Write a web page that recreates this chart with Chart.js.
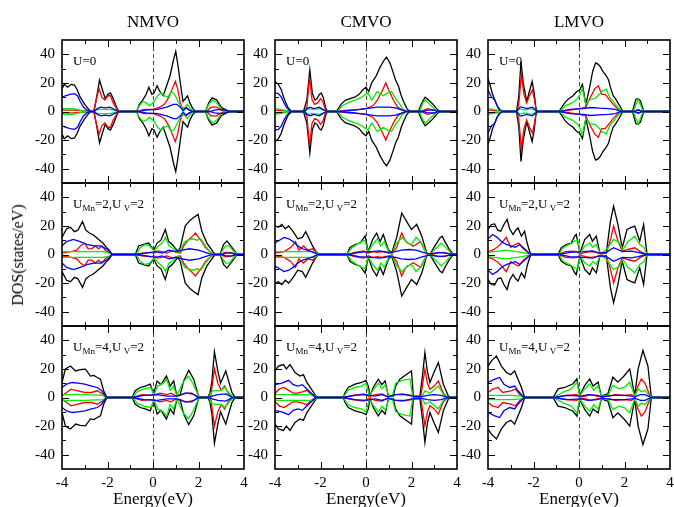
<!DOCTYPE html>
<html>
<head>
<meta charset="utf-8">
<script src="https://cdn.jsdelivr.net/npm/chart.js@4.4.1/dist/chart.umd.min.js"></script>
<style>
  body { margin: 0; background: #fff; }
  #wrap { position: relative; width: 674px; height: 507px; overflow: hidden; background: #fff; }
  #wrap canvas { position: absolute; }
  .lbl { position: absolute; font-family: "Liberation Serif", "DejaVu Serif", serif; color: #000; white-space: nowrap; }
  .lbl sub { font-size: 9px; vertical-align: -3px; line-height: 0; }
</style>
</head>
<body>
<div id="wrap"></div>
<script>
// axis setup
const xTicks = [-4, -2, 0, 2, 4]
const yTicks = [-40, -20, 0, 20, 40]
const colTitles = ['NMVO', 'CMVO', 'LMVO']
const uLabels = ['U=0', 'U<sub>Mn</sub>=2,U<sub>&nbsp;V</sub>=2', 'U<sub>Mn</sub>=4,U<sub>&nbsp;V</sub>=2']

// DOS curves, [energy, states/eV] (spin up; spin down is the mirror image)
// --- U = 0 ---
const nm0_tot = [[-4,16],[-3.9,19],[-3.75,17],[-3.6,19],[-3.45,18.5],[-3.33,15],[-3.2,10],[-3.0,5],[-2.8,1],[-2.7,0],[-2.6,0],[-2.5,8],[-2.35,22],[-2.22,15],[-2.1,9],[-1.98,12],[-1.87,13],[-1.75,9],[-1.6,3],[-1.5,0],[-0.72,0],[-0.6,5],[-0.45,8],[-0.3,12],[-0.18,17],[-0.05,12],[0.05,13],[0.18,18],[0.3,14],[0.45,11],[0.6,18],[0.75,25],[0.9,36],[1.0,42],[1.1,32],[1.2,20],[1.32,7],[1.42,9],[1.52,11],[1.62,6],[1.75,2],[1.9,0],[2.3,0],[2.45,6],[2.6,9.5],[2.8,8],[3.0,3],[3.3,0.5],[3.45,0]]
const nm0_red = [[-4,1],[-3.5,1],[-3.0,0.5],[-2.8,0],[-2.6,0],[-2.5,8],[-2.37,16],[-2.25,10],[-2.12,8],[-1.98,11],[-1.87,11],[-1.75,6],[-1.6,2],[-1.5,0],[-0.7,0],[-0.4,1.5],[0,1.5],[0.3,3],[0.5,5],[0.7,10],[0.85,16],[0.98,21],[1.08,16],[1.2,6],[1.3,2],[1.45,3],[1.6,1],[1.75,0],[2.35,0],[2.55,3],[2.8,3],[3.0,1],[3.2,0]]
const nm0_grn = [[-4,2],[-3.5,2],[-3.1,0.5],[-2.9,0],[-2.6,0],[-2.45,1.5],[-2.2,1.5],[-1.9,1.5],[-1.6,0.5],[-1.5,0],[-0.75,0],[-0.6,4],[-0.45,7],[-0.3,6],[-0.15,4],[0.05,7],[0.2,11],[0.35,13],[0.5,11],[0.65,10],[0.8,14],[0.95,12],[1.1,7],[1.25,3],[1.35,1],[1.5,5],[1.65,2],[1.75,0],[2.3,0],[2.45,5],[2.62,8],[2.8,6],[3.0,2],[3.2,0]]
const nm0_blu = [[-4,10],[-3.85,11],[-3.65,12],[-3.45,12.5],[-3.32,11],[-3.2,7],[-3.05,3],[-2.9,1],[-2.75,0],[-2.6,0],[-2.45,2],[-2.3,3],[-2.1,2.5],[-1.9,3],[-1.7,1.5],[-1.5,0],[-0.7,0],[-0.3,1],[0.2,1.5],[0.6,3],[0.9,5],[1.05,5],[1.2,3],[1.32,0.5],[1.45,2.5],[1.6,1],[1.75,0],[2.5,0],[2.7,1],[3.0,1.5],[3.3,0.5],[3.45,0]]

const cm0_tot = [[-4,21],[-3.85,19],[-3.72,15],[-3.62,10],[-3.52,6],[-3.42,2.5],[-3.3,0.5],[-3.2,0],[-2.75,0],[-2.6,8],[-2.47,29],[-2.36,13],[-2.25,8],[-2.15,9],[-2.05,12],[-1.97,13],[-1.88,10],[-1.78,3],[-1.7,0],[-1.3,0],[-1.1,5],[-0.9,8],[-0.7,9],[-0.5,10],[-0.3,12],[-0.15,15],[0.0,17],[0.12,14],[0.25,20],[0.45,25],[0.62,31],[0.8,36],[0.9,38],[1.05,34],[1.2,27],[1.3,22],[1.42,18],[1.55,11],[1.65,7],[1.8,2],[1.93,0],[2.3,0],[2.45,6],[2.6,10],[2.75,8],[2.95,5],[3.1,2],[3.25,0]]
const cm0_red = [[-4,1],[-3.5,0.5],[-3.3,0],[-2.7,0],[-2.6,3],[-2.48,24],[-2.37,8],[-2.25,5],[-2.12,6],[-2.0,9],[-1.9,7],[-1.8,2],[-1.7,0],[-1.25,0],[-0.8,1],[-0.3,1.5],[0,2],[0.3,4],[0.5,8],[0.7,14],[0.87,20],[1.0,15],[1.2,8],[1.4,3],[1.6,1],[1.8,0],[2.4,0],[2.55,1],[2.7,2],[3.0,1],[3.2,0]]
const cm0_grn = [[-4,2],[-3.6,1],[-3.4,0.3],[-3.3,0],[-2.7,0],[-2.55,2],[-2.35,1.5],[-2.05,2],[-1.85,1],[-1.7,0],[-1.25,0],[-1.05,4],[-0.8,6],[-0.5,8],[-0.3,9],[-0.1,11],[0.08,13],[0.25,8],[0.5,14],[0.75,11],[0.95,13],[1.12,14],[1.3,9],[1.45,6],[1.6,2],[1.8,0],[2.35,0],[2.5,6],[2.62,8],[2.8,5],[3.0,2],[3.15,0]]
const cm0_blu = [[-4,13],[-3.85,12.5],[-3.72,10],[-3.6,6],[-3.5,3],[-3.38,0.8],[-3.3,0],[-2.7,0],[-2.6,2],[-2.45,3],[-2.3,2],[-2.05,3],[-1.85,1],[-1.7,0],[-1.2,0],[-0.5,1],[0,2],[0.5,3],[1.0,3],[1.3,2.5],[1.6,1],[1.8,0],[2.5,0],[2.7,1],[3.0,1],[3.2,0]]

const lm0_tot = [[-4,23],[-3.9,18],[-3.8,12],[-3.7,8],[-3.6,4],[-3.5,1],[-3.38,0],[-2.75,0],[-2.65,10],[-2.55,35],[-2.45,20],[-2.3,7],[-2.18,14],[-2.06,21],[-1.97,13],[-1.9,3],[-1.85,0],[-0.88,0],[-0.63,6],[-0.45,9],[-0.26,11],[-0.1,14],[0.03,15],[0.15,19],[0.3,5],[0.47,17],[0.6,28],[0.73,34],[0.85,33],[0.95,31],[1.05,28],[1.2,25],[1.3,22],[1.38,17],[1.5,11],[1.6,9],[1.79,4],[1.93,0],[2.35,0],[2.5,8.6],[2.6,9],[2.7,7.5],[2.85,0]]
const lm0_red = [[-4,1],[-3.5,0.5],[-3.4,0],[-2.75,0],[-2.65,5],[-2.53,26],[-2.42,12],[-2.3,6],[-2.15,12],[-2.05,15],[-1.95,8],[-1.88,0],[-0.85,0],[-0.4,1],[0,2],[0.3,3],[0.5,10],[0.7,16],[0.85,18],[1.0,12],[1.15,12],[1.3,9],[1.5,5],[1.7,2],[1.9,0],[2.4,0],[2.6,1.5],[2.8,0]]
const lm0_grn = [[-4,2],[-3.6,1],[-3.4,0],[-2.75,0],[-2.6,2],[-2.4,1],[-2.1,2],[-1.9,0.5],[-1.85,0],[-0.85,0],[-0.6,4],[-0.3,6],[-0.05,9],[0.05,12],[0.15,16],[0.3,5],[0.5,8.6],[0.7,9],[0.9,12],[1.05,14.5],[1.2,15.6],[1.35,9.8],[1.55,6],[1.75,2],[1.88,0],[2.38,0],[2.48,4],[2.6,8.6],[2.72,4],[2.82,0]]
const lm0_blu = [[-4,15],[-3.85,10],[-3.7,8],[-3.6,4],[-3.45,1],[-3.35,0],[-2.75,0],[-2.6,3],[-2.5,3],[-2.3,2],[-2.05,3],[-1.9,1],[-1.85,0],[-0.85,0],[-0.4,1.5],[0.2,2],[0.5,2.8],[0.9,2.3],[1.3,2],[1.6,1.5],[1.85,0],[2.4,0],[2.6,1],[2.8,0]]

// --- U_Mn = 2, U_V = 2 ---
const nm2_tot = [[-4,12],[-3.8,18],[-3.63,19],[-3.45,16],[-3.3,17],[-3.1,23],[-2.95,17],[-2.8,15],[-2.65,14],[-2.5,12],[-2.35,10],[-2.2,8],[-2.05,5],[-1.92,3],[-1.8,0],[-0.78,0],[-0.63,6],[-0.41,7],[-0.19,8],[0.03,3],[0.18,8],[0.35,10],[0.54,17.5],[0.69,9],[0.85,7],[0.95,5],[1.1,2],[1.2,5],[1.3,12],[1.42,20],[1.64,24],[1.8,26],[1.98,28],[2.15,16],[2.37,8],[2.59,3],[2.73,0],[2.95,0],[3.1,7],[3.25,9.5],[3.47,5],[3.7,0]]
const nm2_red = [[-4,1],[-3.6,2],[-3.35,3],[-3.19,6],[-3.0,8],[-2.85,4],[-2.7,4],[-2.53,6],[-2.4,4],[-2.24,6],[-2.1,3],[-1.9,1],[-1.8,0],[-0.75,0],[-0.5,1],[-0.1,1.5],[0.05,1],[0.2,2.5],[0.4,2],[0.6,1],[0.85,2.5],[1.05,1.5],[1.2,1],[1.35,6],[1.55,10],[1.75,13],[1.87,15],[2.0,12],[2.15,9],[2.3,5],[2.5,2],[2.7,0],[3.0,0],[3.15,1.5],[3.4,1.5],[3.6,0]]
const nm2_grn = [[-4,2],[-3,2],[-2.2,2],[-1.9,1],[-1.8,0],[-0.75,0],[-0.55,5],[-0.35,7],[-0.15,6],[0.05,2.5],[0.25,6],[0.45,9],[0.55,12],[0.7,6],[0.9,4],[1.1,1],[1.25,5],[1.4,9],[1.55,10],[1.75,11],[1.95,10],[2.1,11],[2.3,6],[2.5,2],[2.65,0],[2.95,0],[3.1,4],[3.2,6],[3.35,6],[3.5,3],[3.7,0]]
const nm2_blu = [[-4,6],[-3.8,9],[-3.5,10.5],[-3.2,9],[-2.9,7],[-2.6,6],[-2.3,6],[-2.0,3.5],[-1.8,0],[-0.75,0],[-0.3,1],[0.1,2],[0.4,1],[0.7,3],[1.0,2],[1.3,3],[1.6,4],[2.0,3],[2.4,1],[2.6,0],[3.0,0],[3.2,1],[3.5,1],[3.7,0]]

const cm2_tot = [[-4,20],[-3.85,19],[-3.7,21],[-3.55,18],[-3.4,20],[-3.2,16],[-3.0,11],[-2.8,12],[-2.65,16],[-2.5,11],[-2.35,6],[-2.2,2],[-2.08,0],[-0.85,0],[-0.7,5],[-0.48,7],[-0.26,8],[-0.04,13],[0.1,2],[0.29,10.5],[0.47,15],[0.62,9],[0.76,14],[0.98,3.5],[1.13,1],[1.35,12],[1.57,29],[1.79,23],[2.0,17.5],[2.23,21],[2.45,13],[2.67,1],[2.8,0],[3.03,6],[3.25,11.6],[3.35,12.8],[3.47,9],[3.65,4],[3.84,0]]
const cm2_red = [[-4,1],[-3.6,2],[-3.3,5],[-3.1,9],[-2.95,3],[-2.75,6],[-2.55,3],[-2.35,4],[-2.15,1],[-2.08,0],[-0.8,0],[-0.5,1.5],[-0.1,2.5],[0.1,1],[0.3,2],[0.5,1.5],[0.7,2],[1.0,1],[1.15,0.5],[1.35,5],[1.57,15],[1.75,9],[2.08,5.8],[2.3,8],[2.4,9],[2.55,4],[2.7,0],[2.85,0],[3.1,1],[3.4,1.5],[3.7,0.5],[3.84,0]]
const cm2_grn = [[-4,2],[-3,2],[-2.3,2],[-2.1,0.5],[-2.05,0],[-0.85,0],[-0.6,5],[-0.3,8],[-0.05,10],[0.1,2],[0.3,7],[0.5,11],[0.65,6],[0.8,9],[1.0,2],[1.15,1],[1.35,8],[1.6,12],[1.8,8],[2.0,7],[2.2,12],[2.45,8],[2.65,1],[2.8,0],[3.0,3],[3.3,8],[3.5,5],[3.8,0]]
const cm2_blu = [[-4,8],[-3.8,10],[-3.6,12],[-3.4,11],[-3.2,9],[-3.0,6],[-2.8,4],[-2.6,3],[-2.4,2],[-2.1,0],[-0.8,0],[-0.3,1.5],[0.2,2],[0.6,2.5],[1.0,1.5],[1.3,2],[1.55,3],[1.9,3.5],[2.2,3],[2.5,1.5],[2.8,0.5],[3.2,1.5],[3.5,1],[3.84,0]]

const lm2_tot = [[-4,17.5],[-3.85,21],[-3.71,21.4],[-3.57,17],[-3.44,16.3],[-3.3,21],[-3.16,24.5],[-3.05,18],[-2.9,14],[-2.78,17],[-2.68,18.6],[-2.53,12.8],[-2.39,16.3],[-2.28,8],[-2.17,2.3],[-2.1,0],[-0.92,0],[-0.78,4.7],[-0.56,7],[-0.34,8],[-0.19,12.8],[-0.12,14],[0.04,1],[0.25,10.5],[0.47,14],[0.59,9.3],[0.76,12.8],[0.92,1],[1.2,1],[1.38,23],[1.52,33.8],[1.71,21],[1.9,4.7],[2.11,17.5],[2.3,19],[2.45,19.8],[2.67,9.3],[2.84,21],[2.99,0]]
const lm2_red = [[-4,2],[-3.8,3],[-3.6,5],[-3.4,8],[-3.2,12],[-3.0,5],[-2.8,7],[-2.65,8],[-2.45,4],[-2.2,1],[-2.1,0],[-0.9,0],[-0.6,2],[-0.3,2.3],[-0.1,2],[0.05,0.5],[0.3,1.5],[0.5,2],[0.75,1.5],[0.95,0.5],[1.2,1],[1.38,10],[1.52,19.8],[1.7,10],[1.9,2.3],[2.15,3.5],[2.45,4.7],[2.7,2],[2.99,0]]
const lm2_grn = [[-4,1.5],[-3.2,3],[-2.5,1.5],[-2.2,0.5],[-2.1,0],[-0.88,0],[-0.7,4.7],[-0.41,7],[-0.19,9.3],[-0.05,10],[0.05,1],[0.25,5.8],[0.47,8],[0.6,5],[0.76,7],[0.92,1],[1.1,2],[1.27,4.7],[1.52,10.5],[1.79,8],[1.93,3.5],[2.15,9],[2.45,12.8],[2.67,7],[2.85,5],[2.99,0]]
const lm2_blu = [[-4,11],[-3.8,14],[-3.6,12],[-3.4,9],[-3.2,7],[-3.0,6],[-2.8,5],[-2.6,7],[-2.4,4],[-2.2,1],[-2.1,0],[-0.9,0],[-0.4,1.5],[0.2,2],[0.6,2.5],[0.9,1],[1.2,1.5],[1.52,4.7],[1.9,2],[2.3,2.3],[2.6,1.5],[2.99,0]]

// --- U_Mn = 4, U_V = 2 ---
const nm4_tot = [[-4,10.5],[-3.85,20],[-3.63,22],[-3.4,18.6],[-3.2,19.5],[-2.97,19.8],[-2.75,15],[-2.6,15.5],[-2.45,14],[-2.31,12.8],[-2.17,4.7],[-2.02,0],[-0.92,0],[-0.78,4.7],[-0.56,7],[-0.34,8],[-0.12,9.3],[0.03,2.3],[0.18,11.6],[0.35,9],[0.59,15],[0.76,8],[0.91,11.6],[1.05,1],[1.2,2],[1.35,11.6],[1.57,19],[1.79,12.8],[2.0,1],[2.08,0],[2.4,0],[2.5,3],[2.59,11.6],[2.7,32],[2.85,18.6],[2.97,10],[3.2,18.6],[3.35,10],[3.47,3.5],[3.62,0]]
const nm4_red = [[-4,1.2],[-3.8,3.5],[-3.6,5.8],[-3.3,4.7],[-3.0,3.5],[-2.7,3.5],[-2.45,4.7],[-2.2,2.3],[-2.05,0],[-0.9,0],[-0.5,2],[-0.1,1.5],[0.1,2],[0.3,3],[0.6,2],[0.8,3],[1.0,1],[1.2,2],[1.5,3],[1.8,2],[2.0,0],[2.45,0],[2.55,2],[2.7,20],[2.85,10],[3.0,5],[3.15,8],[3.3,3],[3.5,0]]
const nm4_grn = [[-4,2],[-3,2],[-2.2,1.5],[-2.05,0],[-0.9,0],[-0.7,4],[-0.4,6],[-0.1,7],[0.05,2],[0.2,8],[0.45,10],[0.6,13],[0.75,5],[0.9,8],[1.05,1],[1.3,10],[1.55,15],[1.75,10],[2.0,1],[2.08,0],[2.45,0],[2.55,3.5],[2.7,5],[2.85,4.7],[3.0,5],[3.15,7],[3.35,3],[3.55,0]]
const nm4_blu = [[-4,7],[-3.8,9.3],[-3.55,10.5],[-3.3,10],[-3.0,9.3],[-2.7,8],[-2.45,7],[-2.25,4.7],[-2.05,0],[-0.9,0],[-0.4,1.5],[0.2,2],[0.6,1],[1.0,1],[1.2,1.5],[1.4,3],[1.7,3],[2.0,0],[2.45,0],[2.6,1],[2.85,2],[3.2,2.5],[3.5,0]]

const cm4_tot = [[-4,18.6],[-3.85,22],[-3.63,23],[-3.5,20],[-3.34,23],[-3.12,17.5],[-2.9,15],[-2.75,16],[-2.6,10.5],[-2.45,7],[-2.3,3.5],[-2.15,0],[-1.0,0],[-0.92,3.5],[-0.78,7],[-0.48,9.3],[-0.19,10.5],[0,12],[0.1,8],[0.18,1],[0.32,7],[0.54,12.8],[0.7,9],[0.84,11.6],[0.98,1],[1.2,1],[1.3,8],[1.49,12.8],[1.79,16.3],[2.0,18.6],[2.08,1],[2.37,1],[2.48,15],[2.59,31.5],[2.7,18],[2.81,10.5],[3.0,18],[3.18,24.5],[3.4,9.3],[3.62,1],[3.77,0]]
const cm4_red = [[-4,3],[-3.8,6],[-3.6,7],[-3.4,5],[-3.2,3],[-3.0,3],[-2.8,4],[-2.6,5],[-2.4,2],[-2.2,0],[-1.0,0],[-0.6,1.5],[-0.1,2.5],[0.15,0.5],[0.4,2],[0.7,2.5],[0.95,0.5],[1.3,2],[1.6,2.5],[2.0,1.5],[2.1,0],[2.4,0],[2.48,8],[2.59,19.8],[2.7,10],[2.81,5.8],[3.0,8],[3.18,11.6],[3.4,3],[3.6,0]]
const cm4_grn = [[-4,2],[-3,2],[-2.3,2],[-2.15,0],[-1.0,0],[-0.8,5],[-0.5,7],[-0.2,8],[0.0,10],[0.15,1],[0.3,5],[0.55,10],[0.7,6],[0.85,9],[1.0,1],[1.15,0.5],[1.3,10],[1.6,12],[1.93,13],[2.05,1],[2.4,0],[2.5,2],[2.6,4.7],[2.81,3],[3.18,8],[3.4,2],[3.6,0]]
const cm4_blu = [[-4,9],[-3.7,10],[-3.4,12],[-3.2,9],[-3.0,8],[-2.8,9],[-2.6,6],[-2.4,3],[-2.2,0],[-1.0,0],[-0.5,1.5],[0,2],[0.4,1],[0.7,2],[1.0,0.5],[1.3,2],[1.7,2],[2.05,1],[2.4,0.5],[2.7,1.5],[3.0,2],[3.3,1.5],[3.6,0]]

const lm4_tot = [[-4,22],[-3.85,25.6],[-3.63,29],[-3.41,22],[-3.19,17.5],[-3.0,16],[-2.83,18.6],[-2.68,12.8],[-2.53,7],[-2.39,0],[-1.14,0],[-0.92,6],[-0.63,7],[-0.26,9.6],[-0.09,13],[0.03,1.4],[0.25,8.4],[0.47,13],[0.62,8],[0.84,10.7],[0.98,1],[1.27,2.6],[1.49,14.2],[1.71,10.7],[2.0,15.4],[2.23,20],[2.45,1.4],[2.6,20],[2.81,32.9],[3.03,22],[3.18,0]]
const lm4_red = [[-4,3.5],[-3.8,5.8],[-3.56,7],[-3.35,3.5],[-3.0,4.7],[-2.8,5.8],[-2.6,2],[-2.4,0],[-1.1,0],[-0.6,1.5],[-0.1,2],[0.05,0.5],[0.3,1],[0.5,2],[0.8,1],[1.0,0.5],[1.3,1],[1.6,2],[2.0,1.5],[2.3,2],[2.45,0.5],[2.6,8.4],[2.74,13],[2.9,10],[3.1,2],[3.18,0]]
const lm4_grn = [[-4,1.5],[-3,1.5],[-2.5,1],[-2.39,0],[-1.12,0],[-0.7,3.7],[-0.34,6],[-0.09,10.7],[0.03,1],[0.25,6],[0.47,9.6],[0.65,5],[0.84,8.4],[0.98,1],[1.27,1],[1.49,8.4],[1.75,6],[2.0,7.2],[2.23,10.7],[2.45,1],[2.6,6],[2.74,4],[2.9,5],[3.1,1],[3.18,0]]
const lm4_blu = [[-4,10.5],[-3.7,12.8],[-3.49,14],[-3.3,9.3],[-3.05,7],[-2.83,8],[-2.68,4.7],[-2.45,0.5],[-2.39,0],[-1.1,0],[-0.5,1.5],[0.1,1],[0.4,2],[0.8,1.5],[1.0,0.5],[1.5,1.5],[2.0,1.5],[2.3,1],[2.45,0.5],[2.7,2],[2.9,2],[3.18,0]]

const grid = [
  [[nm0_tot, nm0_red, nm0_grn, nm0_blu], [cm0_tot, cm0_red, cm0_grn, cm0_blu], [lm0_tot, lm0_red, lm0_grn, lm0_blu]],
  [[nm2_tot, nm2_red, nm2_grn, nm2_blu], [cm2_tot, cm2_red, cm2_grn, cm2_blu], [lm2_tot, lm2_red, lm2_grn, lm2_blu]],
  [[nm4_tot, nm4_red, nm4_grn, nm4_blu], [cm4_tot, cm4_red, cm4_grn, cm4_blu], [lm4_tot, lm4_red, lm4_grn, lm4_blu]],
]
const colors = ['#000000', '#ff0000', '#00ee00', '#0000ff']

// layout of the panels
const colLeft = [62, 275, 488]
const rowTop = [40, 183, 326]
const panelW = 182, panelH = 143
const padL = 45, padT = 4, padR = 4, bottomH = 30
const FONT = '"Liberation Serif", "DejaVu Serif", serif'

const wrap = document.getElementById('wrap')

const addLabel = (html, css) => {
  const d = document.createElement('div')
  d.className = 'lbl'
  d.innerHTML = html
  Object.assign(d.style, css)
  wrap.appendChild(d)
  return d
}

// pad a curve with zero ends so every line spans -4..4
const toPoints = (pts, sign) => {
  const out = pts.map(([x, y]) => ({ x: x, y: sign * y }))
  if (pts[0][0] > -4) out.unshift({ x: -4, y: 0 })
  if (pts[pts.length - 1][0] < 4) out.push({ x: 4, y: 0 })
  return out
}

// frame, inward ticks and Fermi level line
const framePlugin = {
  id: 'frame',
  beforeDatasetsDraw(chart) {
    const { ctx, chartArea: a, scales: { x } } = chart
    const px = Math.round(x.getPixelForValue(0)) + 0.5
    ctx.save()
    ctx.strokeStyle = '#444'
    ctx.lineWidth = 1
    ctx.setLineDash([4, 3])
    ctx.beginPath()
    ctx.moveTo(px, a.top)
    ctx.lineTo(px, a.bottom)
    ctx.stroke()
    ctx.restore()
  },
  afterDraw(chart) {
    const { ctx, chartArea: a, scales: { x, y } } = chart
    ctx.save()
    ctx.strokeStyle = '#000'
    ctx.lineWidth = 1
    ctx.beginPath()
    for (let e = -3; e <= 3; e++) {
      const px = Math.round(x.getPixelForValue(e)) + 0.5
      const len = e % 2 === 0 ? 7 : 4
      ctx.moveTo(px, a.top); ctx.lineTo(px, a.top + len)
      ctx.moveTo(px, a.bottom); ctx.lineTo(px, a.bottom - len)
    }
    for (let v = -40; v <= 40; v += 10) {
      const py = Math.round(y.getPixelForValue(v)) + 0.5
      const len = v % 20 === 0 ? 7 : 4
      ctx.moveTo(a.left, py); ctx.lineTo(a.left + len, py)
      ctx.moveTo(a.right, py); ctx.lineTo(a.right - len, py)
    }
    ctx.stroke()
    ctx.lineWidth = 1.6
    ctx.strokeRect(a.left, a.top, a.width, a.height)
    ctx.restore()
  }
}

grid.forEach((row, r) => {
  row.forEach((series, c) => {
    const isBottom = r === grid.length - 1
    const canvas = document.createElement('canvas')
    const w = panelW + padL + padR
    const h = panelH + padT + (isBottom ? bottomH : 1)
    canvas.width = w
    canvas.height = h
    canvas.style.left = (colLeft[c] - padL) + 'px'
    canvas.style.top = (rowTop[r] - padT) + 'px'
    canvas.style.width = w + 'px'
    canvas.style.height = h + 'px'
    wrap.appendChild(canvas)

    // Chart.js paints the first dataset last, so list blue first to keep it on top
    const datasets = []
    series.slice().reverse().forEach((pts, k) => {
      const i = series.length - 1 - k;
      [1, -1].forEach(sign => {
        datasets.push({
          data: toPoints(pts, sign),
          borderColor: colors[i],
          borderWidth: 1.3,
          pointRadius: 0,
          tension: 0,
          fill: false,
        })
      })
    })

    new Chart(canvas, {
      type: 'line',
      data: { datasets },
      options: {
        responsive: false,
        animation: false,
        devicePixelRatio: 1,
        layout: { padding: { left: 0, top: padT, right: padR, bottom: 0 } },
        plugins: { legend: { display: false }, tooltip: { enabled: false } },
        scales: {
          x: {
            type: 'linear', min: -4, max: 4,
            grid: { display: false, drawTicks: false },
            border: { display: false },
            afterBuildTicks: s => { s.ticks = xTicks.map(v => ({ value: v })) },
            afterFit: s => {
              s.height = isBottom ? bottomH : 1
              s.paddingLeft = 0; s.paddingRight = 0; s.paddingTop = 0; s.paddingBottom = 0
            },
            ticks: { display: isBottom, padding: 5, color: '#000', maxRotation: 0, autoSkip: false, font: { family: FONT, size: 15 } },
          },
          y: {
            type: 'linear', min: -50, max: 50,
            grid: { display: false, drawTicks: false },
            border: { display: false },
            afterBuildTicks: s => { s.ticks = yTicks.map(v => ({ value: v })) },
            afterFit: s => {
              s.width = padL
              s.paddingTop = 0; s.paddingBottom = 0; s.paddingLeft = 0; s.paddingRight = 0
            },
            ticks: { padding: 7, color: '#000', font: { family: FONT, size: 15 } },
          },
        },
      },
      plugins: [framePlugin],
    })

    addLabel(uLabels[r], { left: (colLeft[c] + 11) + 'px', top: (rowTop[r] + 14) + 'px', fontSize: '13px', lineHeight: '13px' })
  })
})

colTitles.forEach((t, c) => {
  addLabel(t, { left: (colLeft[c] + panelW / 2) + 'px', top: '12px', fontSize: '17px', lineHeight: '20px', transform: 'translateX(-50%)' })
  addLabel('Energy(eV)', { left: (colLeft[c] + panelW / 2) + 'px', top: '489px', fontSize: '17px', lineHeight: '20px', transform: 'translateX(-50%)' })
})
addLabel('DOS(states/eV)', { left: '18px', top: '255px', fontSize: '16px', lineHeight: '18px', transform: 'translate(-50%, -50%) rotate(-90deg)' })
</script>
</body>
</html>
